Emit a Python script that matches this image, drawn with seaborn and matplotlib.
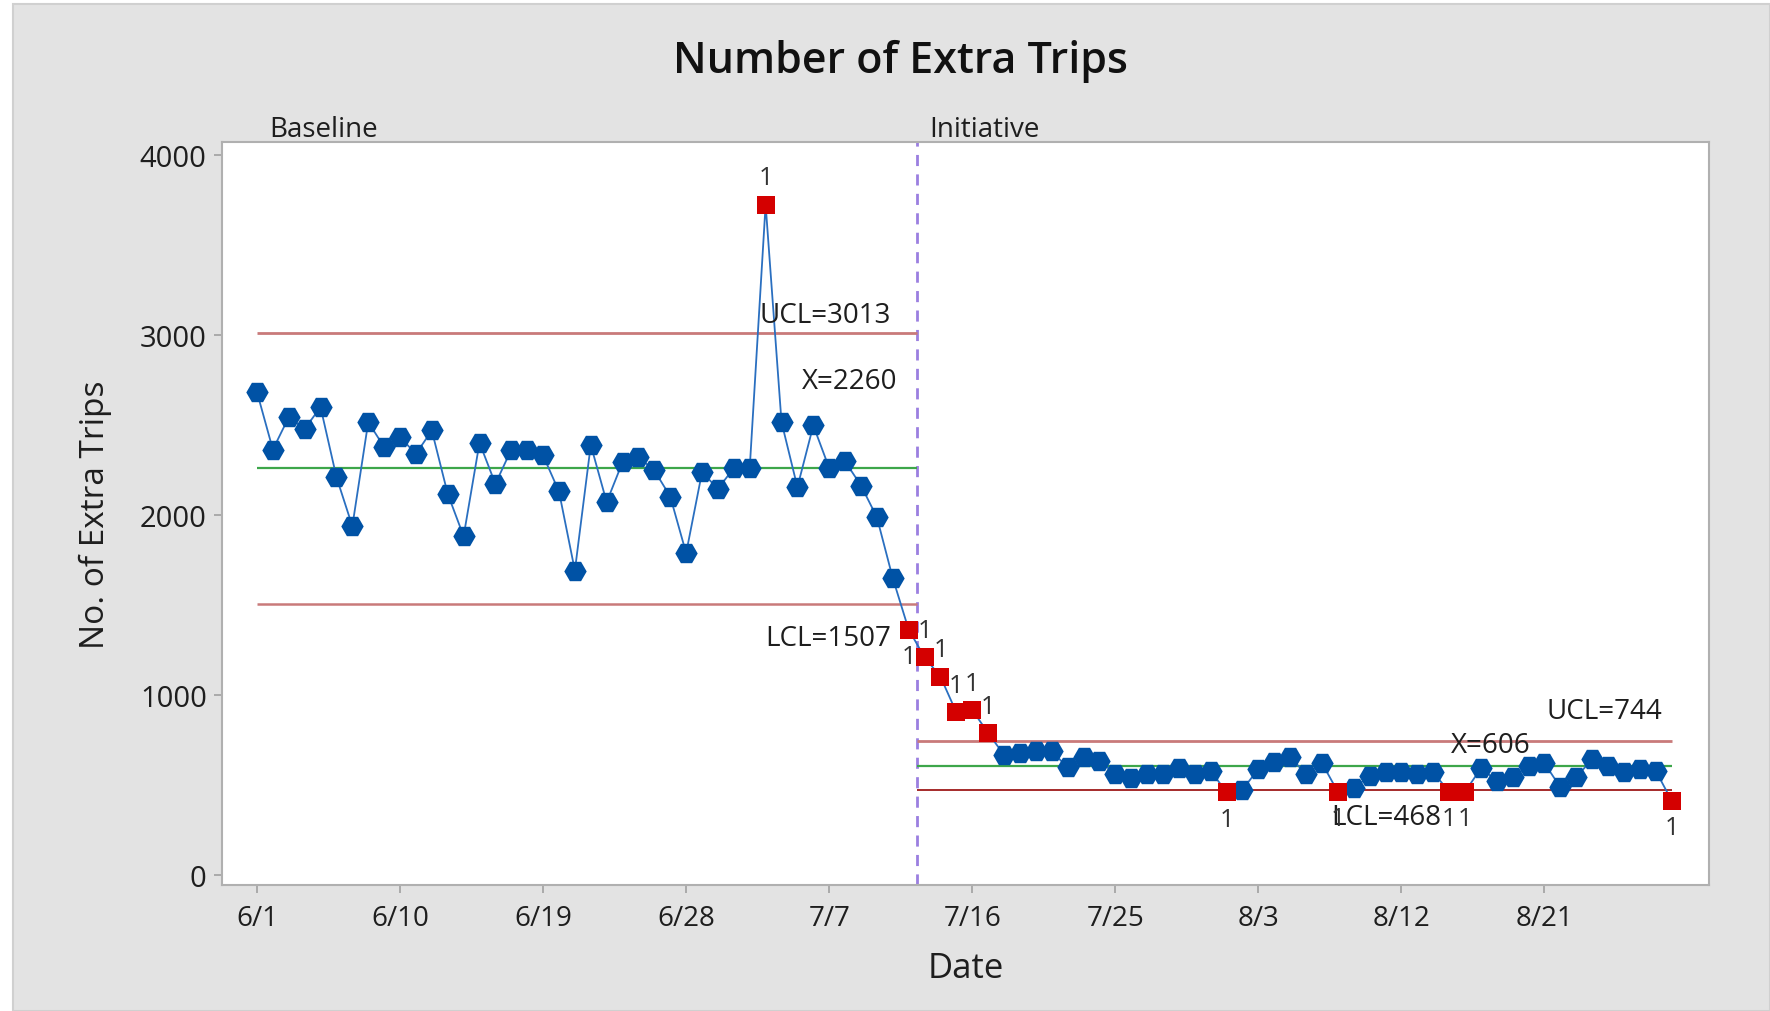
import matplotlib
matplotlib.use("Agg")
import matplotlib.pyplot as plt
import matplotlib.patches as mpatches
import seaborn as sns
import pandas as pd
import numpy as np

# ---------------- data ----------------
start_date = "2019-06-01"
baseline_values = [2683, 2363, 2543, 2478, 2599, 2210, 1937, 2516, 2377, 2432,
                   2339, 2469, 2117, 1881, 2401, 2172, 2363, 2363, 2330, 2130,
                   1690, 2389, 2071, 2293, 2321, 2247, 2102, 1787, 2237, 2145,
                   2260, 2260, 3725, 2516, 2154, 2497, 2260, 2297, 2163, 1987,
                   1648, 1362]
initiative_values = [1208, 1100, 902, 915, 787, 665, 676, 689, 685, 596,
                     652, 633, 559, 535, 559, 559, 591, 559, 577, 457,
                     472, 587, 628, 652, 559, 620, 460, 479, 550, 572,
                     569, 559, 569, 460, 460, 591, 522, 541, 605, 619,
                     485, 541, 642, 605, 569, 587, 577, 411]
# indices (within full series) of points failing test 1, and label side
flag_above = [32, 42, 43, 44, 45, 46]
flag_below = [41, 61, 68, 75, 76, 89]
stage_names = ["Baseline", "Initiative"]
ucl = [3013, 744]
center = [2260, 606]
lcl = [1507, 468]
tick_labels = ["6/1", "6/10", "6/19", "6/28", "7/7", "7/16", "7/25", "8/3", "8/12", "8/21"]

values = baseline_values + initiative_values
n_base = len(baseline_values)
dates = pd.date_range(start_date, periods=len(values), freq="D")
df = pd.DataFrame({"Date": dates, "Trips": values,
                   "Stage": [stage_names[0]] * n_base + [stage_names[1]] * len(initiative_values)})
flags = sorted(flag_above + flag_below)
df["Flag"] = False
df.loc[flags, "Flag"] = True

# ---------------- style ----------------
sns.set_theme(style="white")
plt.rcParams["font.family"] = ["Open Sans", "DejaVu Sans"]

BG = "#e3e3e3"
BLUE = "#0052a5"
RED = "#d40000"
LIMIT_RED = "#c97a7a"
LCL2 = "#a52a2a"
GREEN = "#3da64a"
PURPLE = "#9b7fe0"
TXT = "#1e1e1e"

fig = plt.figure(figsize=(17.7, 10.12), dpi=100)
fig.patch.set_facecolor("white")
fig.patches.append(mpatches.Rectangle((13 / 1770, 0), 1 - 13 / 1770, 1 - 5 / 1012,
                                      transform=fig.transFigure, facecolor=BG,
                                      edgecolor="#d0d0d0", linewidth=1.5, zorder=-10))

ax = fig.add_axes([222 / 1770, 1 - 886 / 1012, (1709 - 222) / 1770, (886 - 143) / 1012])
ax.set_facecolor("white")

x0 = pd.Timestamp(start_date)
def dnum(d):
    return matplotlib.dates.date2num(x0 + pd.Timedelta(days=d))

# connecting line
sns.lineplot(data=df, x="Date", y="Trips", ax=ax, color="#2a6fc0", linewidth=1.3,
             estimator=None, sort=False, zorder=3)
# normal points
sns.scatterplot(data=df[~df["Flag"]], x="Date", y="Trips", ax=ax, color=BLUE,
                marker="H", s=260, edgecolor=BLUE, linewidth=0, zorder=4)
# flagged points
sns.scatterplot(data=df[df["Flag"]], x="Date", y="Trips", ax=ax, color=RED,
                marker="s", s=170, edgecolor=RED, linewidth=0, zorder=5)

# control limits per stage
split = n_base - 0.5
stage_ranges = [(0, split), (split, len(values) - 1)]
for i, (a, b) in enumerate(stage_ranges):
    xa, xb = dnum(a), dnum(b)
    ax.hlines(ucl[i], xa, xb, color=LIMIT_RED, linewidth=2, zorder=2)
    ax.hlines(center[i], xa, xb, color=GREEN, linewidth=1.6, zorder=2)
    ax.hlines(lcl[i], xa, xb, color=LIMIT_RED if i == 0 else LCL2,
              linewidth=1.8 if i == 0 else 1.4, zorder=2)

ax.axvline(dnum(split), color=PURPLE, linestyle=(0, (4, 3)), linewidth=2, zorder=1)

lab_fs = 20
# limit labels (baseline)
ax.text(dnum(39.9), 3110, f"UCL={ucl[0]}", ha="right", va="center", fontsize=lab_fs, color=TXT)
ax.text(dnum(40.3), 2746, f"X={center[0]}", ha="right", va="center", fontsize=lab_fs, color=TXT)
ax.text(dnum(39.9), 1316, f"LCL={lcl[0]}", ha="right", va="center", fontsize=lab_fs, color=TXT)
# limit labels (initiative)
ax.text(dnum(88.4), 907, f"UCL={ucl[1]}", ha="right", va="center", fontsize=lab_fs, color=TXT)
ax.text(dnum(80.1), 718, f"X={center[1]}", ha="right", va="center", fontsize=lab_fs, color=TXT)
ax.text(dnum(74.5), 321, f"LCL={lcl[1]}", ha="right", va="center", fontsize=lab_fs, color=TXT)

# test-failure labels
for i in flag_above:
    ax.text(dnum(i), values[i] + 80, "1", ha="center", va="bottom", fontsize=18, color="#333333")
for i in flag_below:
    ax.text(dnum(i), values[i] - 80, "1", ha="center", va="top", fontsize=18, color="#333333")

# stage names above axes
for i, (a, b) in enumerate(stage_ranges):
    ax.text(dnum(a + 0.8), 0.999, stage_names[i],
            transform=ax.get_xaxis_transform(), ha="left", va="bottom", fontsize=20, color=TXT)

# axes
ax.set_xlim(dnum(-2.2), dnum(91.35))
ax.set_ylim(-58, 4073)
tick_pos = [dnum(9 * k) for k in range(len(tick_labels))]
ax.set_xticks(tick_pos)
ax.set_xticklabels(tick_labels)
ax.set_yticks([0, 1000, 2000, 3000, 4000])
ax.set_yticklabels(["0", "1000", "2000", "3000", "4000"])
ax.tick_params(axis="both", labelsize=20, labelcolor=TXT, length=6, width=1.2,
               direction="out", bottom=True, left=True, color="#a0a0a0")
ax.tick_params(axis="y", labelsize=21, pad=5)
ax.tick_params(axis="x", pad=8)
for s in ax.spines.values():
    s.set_color("#b0b0b0")
    s.set_linewidth(1.5)

ax.set_xlabel("Date", fontsize=25, color=TXT, labelpad=13)
ax.set_ylabel("No. of Extra Trips", fontsize=24, color=TXT, labelpad=20)
fig.text(900 / 1770, 1 - 61 / 1012, "Number of Extra Trips", ha="center", va="center",
         fontsize=31, fontweight="semibold", color="#111111")

fig.savefig("out.png", dpi=100, facecolor=fig.get_facecolor())
